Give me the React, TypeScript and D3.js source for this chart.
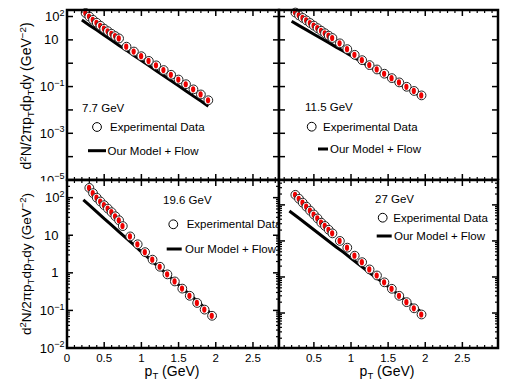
import React from 'react';
import * as d3 from 'd3';

// ---------- data ----------
const pT_77 = [0.25, 0.3, 0.35, 0.4, 0.45, 0.5, 0.55, 0.6, 0.65, 0.7, 0.8, 0.9, 1.0, 1.1, 1.2, 1.3, 1.4, 1.5, 1.6, 1.7, 1.8, 1.9];
const exp_77 = [141, 100, 72, 54, 40, 30, 23.4, 18.2, 14.5, 11.5, 5.1, 3.16, 2.0, 1.26, 0.81, 0.51, 0.32, 0.2, 0.126, 0.076, 0.046, 0.026];
const modelPT_77 = [0.2, 0.3, 0.4, 0.5, 0.6, 0.7, 0.8, 0.9, 1.0, 1.1, 1.2, 1.3, 1.4, 1.5, 1.6, 1.7, 1.8, 1.9];
const model_77 = [70.8, 42.7, 26.3, 15.8, 9.55, 5.75, 3.55, 2.14, 1.29, 0.79, 0.48, 0.29, 0.178, 0.107, 0.065, 0.039, 0.024, 0.0145];

const pT_115 = [0.25, 0.3, 0.35, 0.4, 0.45, 0.5, 0.55, 0.6, 0.65, 0.7, 0.75, 0.85, 0.95, 1.05, 1.15, 1.25, 1.35, 1.45, 1.55, 1.65, 1.75, 1.85, 1.95];
const exp_115 = [148, 112, 87, 68, 52.5, 40.7, 31.6, 24.5, 19.1, 15.1, 12.0, 7.1, 4.0, 2.29, 1.35, 0.83, 0.54, 0.355, 0.23, 0.151, 0.098, 0.065, 0.042];
const modelPT_115 = [0.2, 0.3, 0.4, 0.5, 0.6, 0.7, 0.8, 0.9, 1.0, 1.1, 1.2, 1.3, 1.4, 1.5, 1.6, 1.7, 1.8, 1.9, 1.97];
const model_115 = [63, 40.7, 26.9, 17.4, 11.5, 7.6, 4.9, 3.24, 2.09, 1.38, 0.89, 0.59, 0.39, 0.25, 0.166, 0.107, 0.071, 0.046, 0.034];

const pT_196 = [0.3, 0.35, 0.4, 0.45, 0.5, 0.55, 0.6, 0.65, 0.7, 0.75, 0.85, 0.95, 1.05, 1.15, 1.25, 1.35, 1.45, 1.55, 1.65, 1.75, 1.85, 1.95];
const exp_196 = [182, 132, 100, 79, 63, 51, 41, 32, 25, 17.5, 9.3, 5.75, 3.55, 2.24, 1.45, 0.91, 0.59, 0.38, 0.245, 0.158, 0.105, 0.072];
const modelPT_196 = [0.22, 0.3, 0.4, 0.5, 0.6, 0.7, 0.8, 0.9, 1.0, 1.1, 1.2, 1.3, 1.4, 1.5, 1.6, 1.7, 1.8, 1.9, 2.0];
const model_196 = [87, 63, 41.7, 27.5, 18.6, 12.3, 8.3, 5.5, 3.63, 2.45, 1.62, 1.1, 0.72, 0.48, 0.32, 0.214, 0.145, 0.095, 0.063];

const pT_27 = [0.25, 0.3, 0.35, 0.4, 0.45, 0.5, 0.55, 0.6, 0.65, 0.7, 0.75, 0.85, 0.95, 1.05, 1.15, 1.25, 1.35, 1.45, 1.55, 1.65, 1.75, 1.85, 1.95];
const exp_27 = [190, 148, 115, 89, 69, 54, 42, 32, 26, 20.4, 16.2, 10, 6.5, 3.9, 2.57, 1.62, 1.1, 0.71, 0.47, 0.3, 0.2, 0.135, 0.091];
const modelPT_27 = [0.17, 0.3, 0.4, 0.5, 0.6, 0.7, 0.8, 0.9, 1.0, 1.1, 1.2, 1.3, 1.4, 1.5, 1.6, 1.7, 1.8, 1.9, 2.0];
const model_27 = [67.6, 42.7, 29.5, 20.4, 14.1, 9.8, 6.8, 4.8, 3.31, 2.29, 1.58, 1.1, 0.78, 0.54, 0.37, 0.257, 0.178, 0.126, 0.087];

const energies = ['7.7 GeV', '11.5 GeV', '19.6 GeV', '27 GeV'];
const legendExp = 'Experimental Data';
const legendModel = 'Our Model + Flow';
const xTickValues = [0, 0.5, 1, 1.5, 2, 2.5];
const xTickLabels = ['0', '0.5', '1', '1.5', '2', '2.5'];
const yLabelExpsTop = [2, 1, -1, -3, -5];
const yLabelExpsBottom = [2, 1, 0, -1, -2];

const FONT = "'Liberation Sans', Arial, Helvetica, sans-serif";

type PanelProps = {
  box: [number, number, number, number]; // left, right, top, bottom
  xDomain: [number, number];
  yDomain: [number, number];
  pts: number[];
  vals: number[];
  mPts: number[];
  mVals: number[];
  label: string;
  labelPos: [number, number];
  circlePos: [number, number];
  expTextPos: [number, number];
  linePos: [number, number, number];
  modelTextPos: [number, number];
  yMinor: boolean;
  yLabelExps?: number[];
  xLabels: boolean;
  xTitleX?: number;
  yTitleY?: number;
  yTitleSize?: number;
  bg?: boolean;
};

function expLabel(e: number) {
  if (e === 0) return '1';
  if (e === 1) return '10';
  return null;
}

function Panel(p: PanelProps) {
  const [L, R, T, B] = p.box;
  const x = d3.scaleLinear().domain(p.xDomain).range([L, R]);
  const y = d3.scaleLog().domain(p.yDomain).range([B, T]);
  const line = d3.line<number>().x((d, i) => x(p.mPts[i])).y((d) => y(d));

  const inX = (v: number) => v >= p.xDomain[0] - 1e-9 && v <= p.xDomain[1] + 1e-9;
  const xMinor = d3.range(0, 30).map((i) => i / 10).filter((v) => inX(v) && Math.abs(v * 2 - Math.round(v * 2)) > 1e-6);
  const xMajor = xTickValues.filter(inX);
  const lo = Math.log10(p.yDomain[0]);
  const hi = Math.log10(p.yDomain[1]);
  const yMajor = d3.range(Math.ceil(lo - 1e-9), Math.floor(hi + 1e-9) + 1).map((e) => Math.pow(10, e));
  const yMinorVals: number[] = [];
  if (p.yMinor) {
    for (let e = Math.floor(lo); e <= Math.ceil(hi); e++) {
      for (let k = 2; k <= 9; k++) {
        const v = k * Math.pow(10, e);
        if (v > p.yDomain[0] && v < p.yDomain[1]) yMinorVals.push(v);
      }
    }
  }
  const MJ = 6, MN = 3;
  const ts = p.yTitleSize || 13.5;
  return (
    <g>
      {p.bg && <rect x={L} y={T} width={505 - L} height={383 - T} fill="white" />}
      {/* model line */}
      <path d={line(p.mVals) || ''} fill="none" stroke="black" strokeWidth={3} />
      {/* data points */}
      {p.pts.map((pt, i) => (
        <g key={i}>
          <circle cx={x(pt)} cy={y(p.vals[i])} r={4.4} fill="white" stroke="#222" strokeWidth={1} />
          <ellipse cx={x(pt) - 0.3} cy={y(p.vals[i])} rx={2.1} ry={3.1} fill="#ee0000" />
        </g>
      ))}
      {/* ticks */}
      {xMinor.map((v, i) => (
        <g key={'xm' + i}>
          <line x1={x(v)} x2={x(v)} y1={B} y2={B - MN} stroke="black" strokeWidth={1.2} />
          <line x1={x(v)} x2={x(v)} y1={T} y2={T + MN} stroke="black" strokeWidth={1.2} />
        </g>
      ))}
      {xMajor.map((v, i) => (
        <g key={'xM' + i}>
          <line x1={x(v)} x2={x(v)} y1={B} y2={B - MJ} stroke="black" strokeWidth={1.5} />
          <line x1={x(v)} x2={x(v)} y1={T} y2={T + MJ} stroke="black" strokeWidth={1.5} />
        </g>
      ))}
      {yMinorVals.map((v, i) => (
        <g key={'ym' + i}>
          <line x1={L} x2={L + MN} y1={y(v)} y2={y(v)} stroke="black" strokeWidth={1.2} />
          <line x1={R} x2={R - MN} y1={y(v)} y2={y(v)} stroke="black" strokeWidth={1.2} />
        </g>
      ))}
      {yMajor.map((v, i) => (
        <g key={'yM' + i}>
          <line x1={L} x2={L + MJ} y1={y(v)} y2={y(v)} stroke="black" strokeWidth={1.5} />
          <line x1={R} x2={R - MJ} y1={y(v)} y2={y(v)} stroke="black" strokeWidth={1.5} />
        </g>
      ))}
      {/* frame */}
      <rect x={L} y={T} width={R - L} height={B - T} fill="none" stroke="black" strokeWidth={2.5} />
      {/* legend */}
      <text x={p.labelPos[0]} y={p.labelPos[1]} fontSize={11.5} fontFamily={FONT}>{p.label}</text>
      <circle cx={p.circlePos[0]} cy={p.circlePos[1]} r={4.4} fill="white" stroke="black" strokeWidth={1} />
      <text x={p.expTextPos[0]} y={p.expTextPos[1]} fontSize={11.5} fontFamily={FONT}>{legendExp}</text>
      <line x1={p.linePos[0]} x2={p.linePos[1]} y1={p.linePos[2]} y2={p.linePos[2]} stroke="black" strokeWidth={3} />
      <text x={p.modelTextPos[0]} y={p.modelTextPos[1]} fontSize={11.5} fontFamily={FONT}>{legendModel}</text>
      {/* y labels */}
      {p.yLabelExps &&
        p.yLabelExps.map((e) => {
          const yy = y(Math.pow(10, e));
          const plain = expLabel(e);
          if (plain)
            return (
              <text key={'yl' + e} x={58.5} y={yy + 4.6} textAnchor="end" fontSize={13} fontFamily={FONT}>{plain}</text>
            );
          return (
            <text key={'yl' + e} x={64.5} y={yy + 4.6} textAnchor="end" fontSize={13} fontFamily={FONT}>
              10<tspan dy={-5.5} fontSize={9}>{e < 0 ? '\u2212' + -e : String(e)}</tspan>
            </text>
          );
        })}
      {p.yLabelExps && p.yTitleY !== undefined && (
        <text transform={`translate(31, ${p.yTitleY}) rotate(-90)`} textAnchor="middle" fontSize={ts} fontFamily={FONT}>
          d<tspan dy={-5} fontSize={ts * 0.7}>2</tspan>
          <tspan dy={5}>N/2πp</tspan>
          <tspan dy={3} fontSize={ts * 0.7}>T</tspan>
          <tspan dy={-3}>dp</tspan>
          <tspan dy={3} fontSize={ts * 0.7}>T</tspan>
          <tspan dy={-3}>dy (GeV</tspan>
          <tspan dy={-5} fontSize={ts * 0.7}>−2</tspan>
          <tspan dy={5}>)</tspan>
        </text>
      )}
      {/* x labels */}
      {p.xLabels &&
        xTickValues.map((v, i) =>
          inX(v) ? (
            <text key={'xl' + i} x={x(v)} y={361.5} textAnchor="middle" fontSize={11.5} fontFamily={FONT}>{xTickLabels[i]}</text>
          ) : null
        )}
      {p.xLabels && p.xTitleX !== undefined && (
        <text x={p.xTitleX} y={376} textAnchor="middle" fontSize={14} fontFamily={FONT}>
          p<tspan dy={3} fontSize={9.5}>T</tspan>
          <tspan dy={-3}> (GeV)</tspan>
        </text>
      )}
    </g>
  );
}

export default function App() {
  const topY: [number, number] = [1e-5, 190];
  return (
    <svg width={505} height={383} style={{ position: 'absolute', left: 0, top: 0, background: 'white' }}>
      <rect x={0} y={0} width={505} height={383} fill="white" />
      <Panel
        box={[67, 279, 10, 180]} xDomain={[0, 2.85]} yDomain={topY}
        pts={pT_77} vals={exp_77} mPts={modelPT_77} mVals={model_77}
        label={energies[0]} labelPos={[82, 112]} circlePos={[97, 127]} expTextPos={[110, 131]}
        linePos={[88, 106, 150.7]} modelTextPos={[107.5, 154.5]}
        yMinor={false} yLabelExps={yLabelExpsTop} xLabels={false} yTitleY={96} yTitleSize={14}
      />
      <Panel
        box={[279, 498, 10, 180]} xDomain={[0.03, 2.98]} yDomain={topY} bg
        pts={pT_115} vals={exp_115} mPts={modelPT_115} mVals={model_115}
        label={energies[1]} labelPos={[305, 111]} circlePos={[311.7, 126.7]} expTextPos={[323, 130.7]}
        linePos={[318, 328, 149]} modelTextPos={[330, 153]}
        yMinor={false} xLabels={false}
      />
      <rect x={0} y={181.3} width={505} height={202} fill="white" />
      <Panel
        box={[67, 279, 180, 348]} xDomain={[0, 2.85]} yDomain={[0.01, 295]}
        pts={pT_196} vals={exp_196} mPts={modelPT_196} mVals={model_196}
        label={energies[2]} labelPos={[163, 204]} circlePos={[173.3, 224.3]} expTextPos={[186.7, 228.3]}
        linePos={[166.7, 181.7, 249]} modelTextPos={[185, 253]}
        yMinor={true} yLabelExps={yLabelExpsBottom} xLabels={true} xTitleX={172} yTitleY={264} yTitleSize={13.5}
      />
      <Panel
        box={[279, 498, 180, 348]} xDomain={[0.03, 2.98]} yDomain={[0.0107, 490]} bg
        pts={pT_27} vals={exp_27} mPts={modelPT_27} mVals={model_27}
        label={energies[3]} labelPos={[375, 203]} circlePos={[382.7, 217.7]} expTextPos={[393.3, 221.7]}
        linePos={[376.7, 391.7, 236]} modelTextPos={[394, 240]}
        yMinor={true} xLabels={true} xTitleX={387}
      />
    </svg>
  );
}
